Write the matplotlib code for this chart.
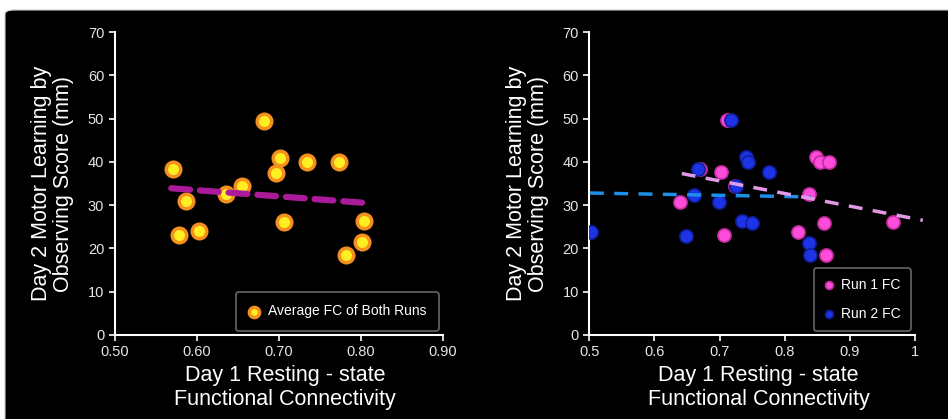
import numpy as np
import matplotlib.pyplot as plt
from matplotlib.patches import FancyBboxPatch

# average FC of both runs vs day 2 score
avg_fc = [0.5715, 0.578, 0.5866, 0.6024, 0.6354, 0.655, 0.6825, 0.697,
          0.7016, 0.707, 0.7345, 0.773, 0.782, 0.8016, 0.804]
avg_score = [38.4, 23.1, 30.9, 24.1, 32.5, 34.5, 49.4, 37.4,
             40.9, 26.0, 40.0, 40.0, 18.5, 21.5, 26.3]
avg_trend_x = [0.569, 0.807]
avg_trend_y = [33.9, 30.5]

# run 1 / run 2
run1_fc = [0.711, 0.670, 0.7017, 0.6397, 0.7073, 0.7232, 0.8368, 0.8485,
           0.8546, 0.8684, 0.820, 0.8598, 0.8634, 0.9667]
run1_score = [49.6, 38.3, 37.6, 30.7, 23.0, 34.4, 32.5, 41.1,
              39.9, 39.9, 23.9, 25.8, 18.4, 26.2]
run2_fc = [0.503, 0.6485, 0.660, 0.6664, 0.6996, 0.717, 0.7252, 0.7344,
           0.7498, 0.741, 0.7432, 0.7759, 0.8377, 0.8393]
run2_score = [23.9, 22.9, 32.4, 38.3, 30.7, 49.6, 34.4, 26.3,
              25.9, 41.2, 39.9, 37.6, 21.3, 18.4]
run1_trend_x = [0.642, 1.012]
run1_trend_y = [37.3, 26.5]
run2_trend_x = [0.501, 0.841]
run2_trend_y = [32.8, 31.9]

left_xticks = [0.50, 0.60, 0.70, 0.80, 0.90]
left_xlabels = ['0.50', '0.60', '0.70', '0.80', '0.90']
right_xticks = [0.5, 0.6, 0.7, 0.8, 0.9, 1.0]
right_xlabels = ['0.5', '0.6', '0.7', '0.8', '0.9', '1']
yticks = [0, 10, 20, 30, 40, 50, 60, 70]

plt.rcParams['font.family'] = ['Liberation Sans', 'DejaVu Sans']

fig = plt.figure(figsize=(9.48, 4.19), dpi=100)
fig.patch.set_facecolor('white')
# black rounded panel behind everything
bg = FancyBboxPatch((5 / 948, -0.1), 1.1, (409 / 419) + 0.1,
                    boxstyle='round,pad=0,rounding_size=0.01',
                    transform=fig.transFigure, facecolor='black',
                    edgecolor='#cccccc', linewidth=0.8, zorder=-10)
fig.patches.append(bg)

ax1 = fig.add_axes([0.121, 0.2005, 0.346, 0.7231])
ax2 = fig.add_axes([0.6216, 0.2005, 0.3436, 0.7231])

ylab = 'Day 2 Motor Learning by\nObserving Score (mm)'
xlab = 'Day 1 Resting - state\nFunctional Connectivity'

for ax in (ax1, ax2):
    ax.set_facecolor('black')
    for s in ['top', 'right']:
        ax.spines[s].set_visible(False)
    for s in ['left', 'bottom']:
        ax.spines[s].set_color('white')
        ax.spines[s].set_linewidth(1.5)
    ax.tick_params(colors='white', labelcolor='#e6e6e6', labelsize=10.5,
                   length=4, width=1.2, direction='out')
    ax.set_ylim(0, 70)
    ax.set_yticks(yticks)
    ax.set_ylabel(ylab, color='white', fontsize=15.5, labelpad=10,
                  linespacing=1.05)
    ax.set_xlabel(xlab, color='white', fontsize=15.5, labelpad=4,
                  linespacing=1.15)
    ax.xaxis.set_label_coords(0.52, -0.1, transform=ax.transAxes)
    ax.xaxis.label.set_va('top')

# left panel
ax1.set_xlim(0.50, 0.90)
ax1.set_xticks(left_xticks)
ax1.set_xticklabels(left_xlabels)
ax1.scatter(avg_fc, avg_score, s=110, c='#ffee22', edgecolors='#f5901e',
            linewidths=2.5, zorder=3, label='Average FC of Both Runs')
ax1.plot(avg_trend_x, avg_trend_y, color='#ac1a9c', lw=4.5,
         dashes=(3, 1.6), solid_capstyle='round', dash_capstyle='round',
         zorder=4)
leg1 = ax1.legend(loc='lower right', fontsize=10, facecolor='black',
                  edgecolor='#666666', labelcolor='white', markerscale=0.7,
                  handlelength=0.8, handletextpad=0.6, borderpad=0.9,
                  framealpha=1, bbox_to_anchor=(1.0, 0.0), borderaxespad=0.3)
leg1.get_frame().set_linewidth(1.2)

# right panel
ax2.set_xlim(0.5, 1.0)
ax2.set_xticks(right_xticks)
ax2.set_xticklabels(right_xlabels)
ax2.scatter(run1_fc, run1_score, s=90, c='#ff4ddb', edgecolors='#c02c9c',
            linewidths=1.2, zorder=3, label='Run 1 FC')
ax2.scatter(run2_fc, run2_score, s=90, c='#1d34e6', edgecolors='#0f1f9e',
            linewidths=1.2, zorder=3, label='Run 2 FC')
ax2.plot(run2_trend_x, run2_trend_y, color='#1e8fe6', lw=2.5,
         dashes=(4, 3), zorder=4)
ax2.plot(run1_trend_x, run1_trend_y, color='#e39ae6', lw=2.5,
         dashes=(4, 3), zorder=4, clip_on=False)
leg2 = ax2.legend(loc='lower right', fontsize=10, facecolor='black',
                  edgecolor='#666666', labelcolor='white', markerscale=0.6,
                  handlelength=0.8, handletextpad=0.5, borderpad=0.7,
                  labelspacing=1.1, framealpha=1,
                  bbox_to_anchor=(1.0, 0.0), borderaxespad=0.3)
leg2.get_frame().set_linewidth(1.2)

fig.savefig('out.png', dpi=100, facecolor=fig.get_facecolor())
